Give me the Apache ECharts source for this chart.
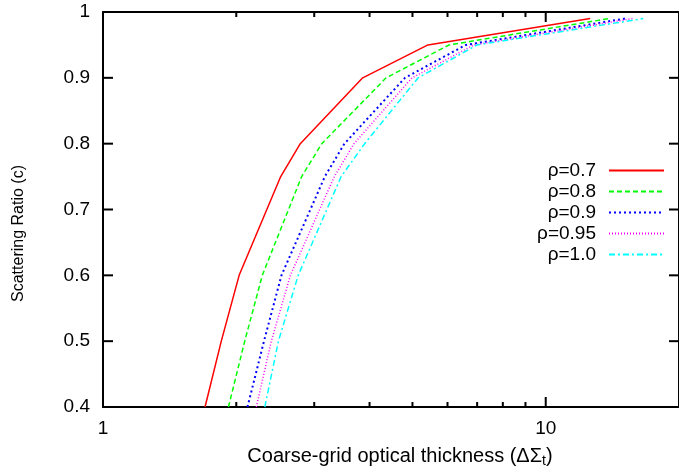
<!DOCTYPE html>
<html>
<head>
<meta charset="utf-8">
<script src="https://cdn.jsdelivr.net/npm/echarts@6/dist/echarts.min.js"></script>
<style>
  html, body { margin: 0; padding: 0; background: #fff; }
  #chart { width: 679px; height: 473px; }
</style>
</head>
<body>
<div id="chart"></div>
<script>
// scattering ratio levels shared by every curve
const ratios = [0.4, 0.5, 0.6, 0.75, 0.8, 0.9, 0.95, 0.99];

// coarse-grid optical thickness for each rho
const rho07 = [1.70, 1.85, 2.03, 2.52, 2.79, 3.86, 5.42, 12.6];
const rho08 = [1.92, 2.09, 2.29, 2.81, 3.12, 4.36, 6.05, 13.9];
const rho09 = [2.12, 2.31, 2.53, 3.17, 3.51, 4.81, 6.6, 15.1];
const rho095 = [2.22, 2.40, 2.65, 3.33, 3.69, 4.99, 6.88, 15.7];
const rho10 = [2.32, 2.49, 2.76, 3.45, 3.9, 5.15, 7.0, 16.6];

const seriesNames = ['ρ=0.7', 'ρ=0.8', 'ρ=0.9', 'ρ=0.95', 'ρ=1.0'];

// tick positions
const xMajorTicks = [1, 10];
const xMinorTicks = [2, 3, 4, 5, 6, 7, 8, 9];
const yTicks = [0.4, 0.5, 0.6, 0.7, 0.8, 0.9, 1.0];

const font = "'Liberation Sans', Arial, sans-serif";

function pairs(xs) {
  return xs.map((x, i) => [x, ratios[i]]);
}

// gnuplot-ish line types
const styles = [
  { color: '#ff0000', width: 1.5, type: 'solid' },
  { color: '#00ff00', width: 1.5, type: [5, 3] },
  { color: '#0000ff', width: 2, type: [2, 3] },
  { color: '#ff00ff', width: 1.5, type: [1, 2] },
  { color: '#00ffff', width: 1.5, type: [6, 3, 2, 3] }
];
const allX = [rho07, rho08, rho09, rho095, rho10];

function axisLine() {
  return { show: true, lineStyle: { color: '#000', width: 2 } };
}

// tick items: [x, y, length]; one rect per item (groups did not draw here)
const xTickData = []
  .concat(xMajorTicks.map(v => [v, 0.4, 10]), xMajorTicks.map(v => [v, 1, 10]))
  .concat(xMinorTicks.map(v => [v, 0.4, 5]), xMinorTicks.map(v => [v, 1, 5]));
const yTickData = yTicks.map(v => [1, v, 10]).concat(yTicks.map(v => [20, v, 10]));

const chart = echarts.init(document.getElementById('chart'));

const option = {
  animation: false,
  textStyle: { fontFamily: font },
  grid: { left: 103, right: -9, top: 12, bottom: 66 },
  legend: {
    data: seriesNames,
    orient: 'vertical',
    align: 'right',
    right: 14,
    top: 161,
    padding: 0,
    itemWidth: 55,
    itemHeight: 14,
    itemGap: 2,
    itemStyle: { opacity: 0 },
    textStyle: { fontSize: 19, color: '#000', fontFamily: font, padding: [0, 8, 0, 0] }
  },
  xAxis: [
    {
      type: 'log',
      logBase: 10,
      min: 1,
      max: 20,
      position: 'bottom',
      axisLine: axisLine(),
      axisTick: { show: false },
      splitLine: { show: false },
      axisLabel: { fontSize: 19, color: '#000', margin: 12, showMaxLabel: false },
      name: 'Coarse-grid optical thickness (ΔΣ{sub|t})',
      nameLocation: 'middle',
      nameGap: 38,
      nameTextStyle: {
        fontSize: 20, color: '#000', padding: [0, 0, 0, 18],
        rich: { sub: { fontSize: 14, color: '#000', padding: [9, 0, 0, 0] } }
      }
    },
    {
      type: 'log',
      logBase: 10,
      min: 1,
      max: 20,
      position: 'top',
      axisLine: axisLine(),
      axisTick: { show: false },
      splitLine: { show: false },
      axisLabel: { show: false }
    }
  ],
  yAxis: [
    {
      type: 'value',
      min: 0.4,
      max: 1,
      interval: 0.1,
      position: 'left',
      axisLine: axisLine(),
      axisTick: { show: false },
      splitLine: { show: false },
      axisLabel: { fontSize: 19, color: '#000', margin: 13 },
      name: 'Scattering Ratio (c)',
      nameLocation: 'middle',
      nameRotate: 90,
      nameGap: 76,
      nameTextStyle: { fontSize: 16, color: '#000', padding: [0, 48, 0, 0] }
    },
    {
      type: 'value',
      min: 0.4,
      max: 1,
      interval: 0.1,
      position: 'right',
      axisLine: axisLine(),
      axisTick: { show: false },
      splitLine: { show: false },
      axisLabel: { show: false }
    }
  ],
  series: seriesNames.map((name, i) => ({
    name: name,
    type: 'line',
    symbol: 'none',
    data: pairs(allX[i]),
    lineStyle: styles[i],
    itemStyle: { color: styles[i].color },
    z: 3
  })).concat([
    {
      // x ticks, pointing inward from bottom and top
      type: 'custom',
      silent: true,
      z: 10,
      data: xTickData,
      renderItem: function (params, api) {
        const y = api.value(1);
        const len = api.value(2);
        const p = api.coord([api.value(0), y]);
        const top = y > 0.7;
        return {
          type: 'rect',
          shape: { x: p[0] - 1, y: top ? p[1] : p[1] - len, width: 2, height: len },
          style: { fill: '#000' }
        };
      }
    },
    {
      // y ticks, pointing inward from left and right
      type: 'custom',
      silent: true,
      z: 10,
      data: yTickData,
      renderItem: function (params, api) {
        const x = api.value(0);
        const len = api.value(2);
        const p = api.coord([x, api.value(1)]);
        const right = x > 5;
        return {
          type: 'rect',
          shape: { x: right ? p[0] - len : p[0], y: p[1] - 1, width: len, height: 2 },
          style: { fill: '#000' }
        };
      }
    }
  ])
};

chart.setOption(option);
</script>
</body>
</html>
